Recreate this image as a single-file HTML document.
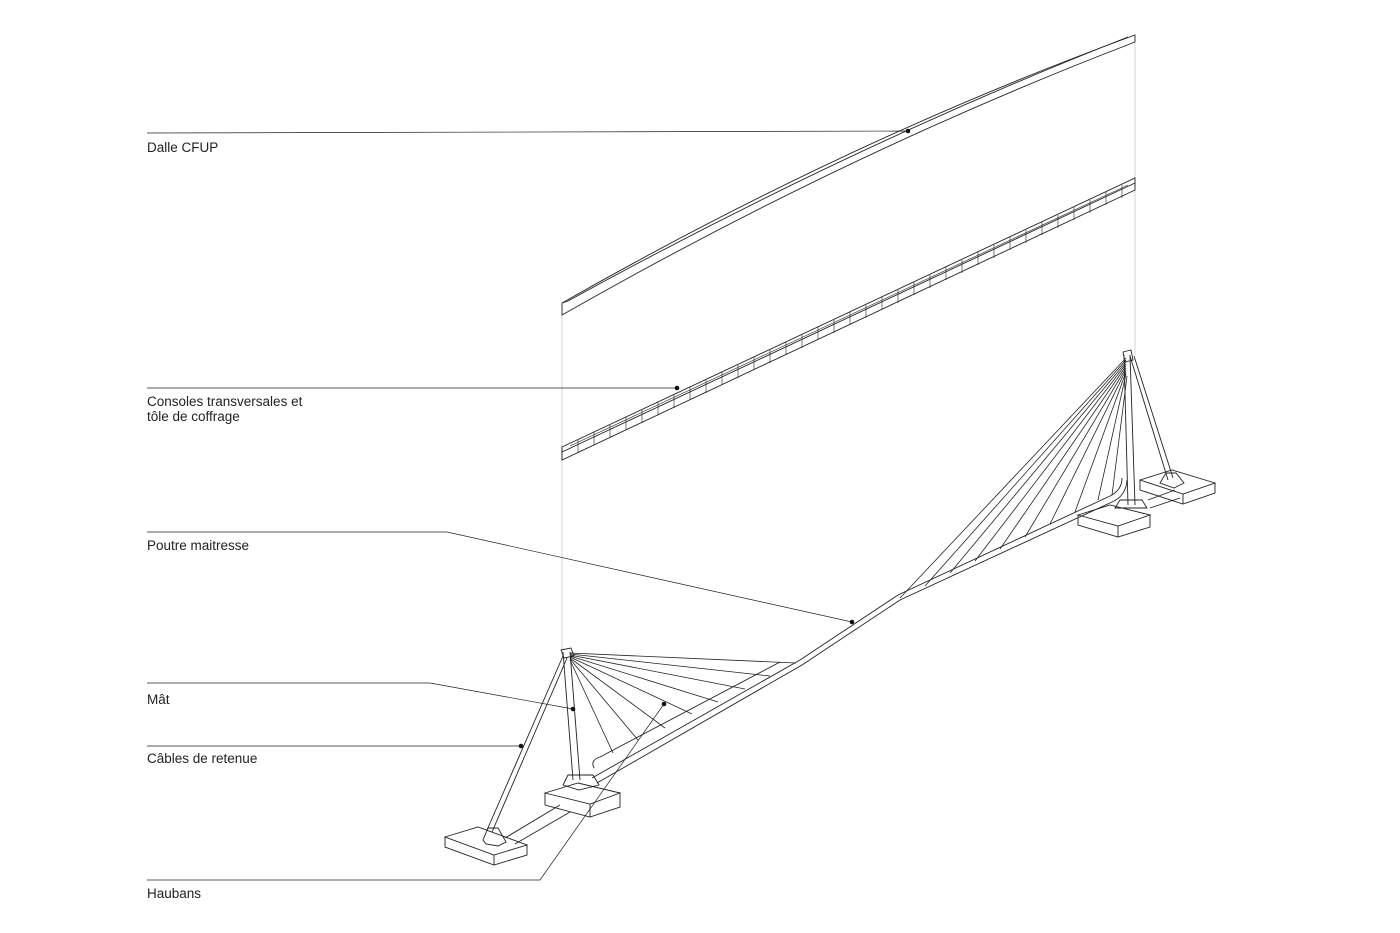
<!DOCTYPE html>
<html><head><meta charset="utf-8"><style>
html,body{margin:0;padding:0;background:#fff}
svg{display:block}
text{font-family:"Liberation Sans",sans-serif;font-size:13.5px;fill:#222}
</style></head><body>
<svg width="1400" height="933" viewBox="0 0 1400 933" xmlns="http://www.w3.org/2000/svg">
<g fill="none" stroke="#222" stroke-width="0.9">
<line x1="562" y1="315" x2="562" y2="650" stroke="#bbb" stroke-width="0.6"/>
<line x1="1135" y1="42" x2="1135" y2="355" stroke="#bbb" stroke-width="0.6"/>
<path d="M562,303 Q848,140 1135,35 L1135,42 Q848,152 562,315 Z"/>
<path d="M562,303 L568,301 Q850,146 1128,37"/>
<path d="M562,447 L1135,178 L1135,190 L562,460 Z"/>
<path d="M562,452 L1135,183"/>
<path d="M570,446 L1128,185" stroke-width="0.6"/>
<g stroke-width="0.6">
<path d="M562,447 l0,13 M578,440 l0,13 M594,432 l0,13 M610,425 l0,13 M626,417 l0,13 M642,410 l0,13 M658,402 l0,13 M674,395 l0,13 M690,387 l0,13 M706,380 l0,13 M722,372 l0,13 M738,365 l0,13 M754,357 l0,13 M770,350 l0,13 M786,342 l0,13 M802,335 l0,13 M818,327 l0,13 M834,320 l0,13 M850,312 l0,13 M866,305 l0,13 M882,297 l0,13 M898,290 l0,13 M914,282 l0,13 M930,275 l0,13 M946,267 l0,13 M962,260 l0,13 M978,252 l0,13 M994,245 l0,13 M1010,237 l0,13 M1026,230 l0,13 M1042,222 l0,13 M1058,215 l0,13 M1074,207 l0,13 M1090,200 l0,13 M1106,192 l0,13 M1122,185 l0,13"/>
</g>
<path d="M592,778 L800,660 L898,595 L1110,496 Q1122,490 1122,478"/>
<path d="M597,783 L802,665 L900,600 L1112,502 Q1126,496 1127,480"/>
<path d="M594,768 Q590,760 600,757 L780,662"/>
<path d="M563,652 L573,780 M570,652 L580,780"/>
<path d="M561,650 l10,-2 l3,8 l-10,2 z"/>
<path d="M563,656 L487,830 M567,658 L492,832"/>
<g stroke-width="0.8">
<path d="M570,653 L796,663 M570,654 L770,676 M570,655 L745,689 M570,656 L718,702 M570,657 L692,714 M570,658 L665,728 M570,659 L638,740 M570,660 L613,753"/>
</g>
<path d="M1124,355 L1128,505 M1130,355 L1135,505"/>
<path d="M1123,352 l8,-2 l2,10 l-8,2 z"/>
<path d="M1130,356 L1168,480 M1134,356 L1173,478"/>
<g stroke-width="0.8">
<path d="M1126,358 L900,598 M1126,360 L925,586 M1126,362 L950,573 M1126,364 L975,561 M1126,366 L1000,549 M1126,368 L1025,537 M1126,370 L1050,524 M1126,372 L1075,512 M1126,374 L1098,500 M1127,376 L1112,495"/>
</g>
<path d="M445,837 L478,827 L527,845 L494,855 Z M445,837 l0,10 l49,18 l33,-10 l0,-10 M494,855 l0,10"/>
<path d="M483,840 l5,-12 l10,0 l8,14 l-8,4 l-12,-2 z"/>
<path d="M505,838 L560,805 M515,844 L570,812"/>
<path d="M545,793 L578,783 L620,793 L590,804 Z M545,793 l0,12 l45,12 l30,-10 l0,-14 M590,804 l0,13"/>
<path d="M563,785 l5,-10 l25,0 l6,10 l-20,5 z"/>
<path d="M1078,515 L1110,505 L1150,515 L1118,526 Z M1078,515 l0,10 l40,12 l32,-10 l0,-12 M1118,526 l0,11"/>
<path d="M1140,480 L1172,470 L1215,483 L1183,494 Z M1140,480 l0,10 l43,14 l32,-11 l0,-10 M1183,494 l0,10"/>
<path d="M1160,483 l6,-10 l10,0 l8,10 l-10,5 z"/>
<path d="M1148,500 L1175,490 M1150,508 L1180,498"/>
<path d="M1115,508 l5,-8 l22,0 l5,8 z"/>
<g stroke-width="0.7">
<path d="M147,133 L908,131"/>
<path d="M147,388 L677,388"/>
<path d="M147,532 L447,532 L852,622"/>
<path d="M147,683 L430,683 L573,709"/>
<path d="M147,746 L521,746"/>
<path d="M147,880 L540,880 L664,704"/>
</g>
</g>
<g fill="#111">
<circle cx="908" cy="131" r="2.3"/><circle cx="677" cy="388" r="2.3"/><circle cx="852" cy="622" r="2.3"/>
<circle cx="573" cy="709" r="2.3"/><circle cx="521" cy="746" r="2.3"/><circle cx="664" cy="704" r="2.3"/>
</g>
<text x="147" y="152">Dalle CFUP</text>
<text x="147" y="406">Consoles transversales et</text>
<text x="147" y="421">tôle de coffrage</text>
<text x="147" y="550">Poutre maitresse</text>
<text x="147" y="704">Mât</text>
<text x="147" y="763">Câbles de retenue</text>
<text x="147" y="898">Haubans</text>
</svg>
</body></html>
